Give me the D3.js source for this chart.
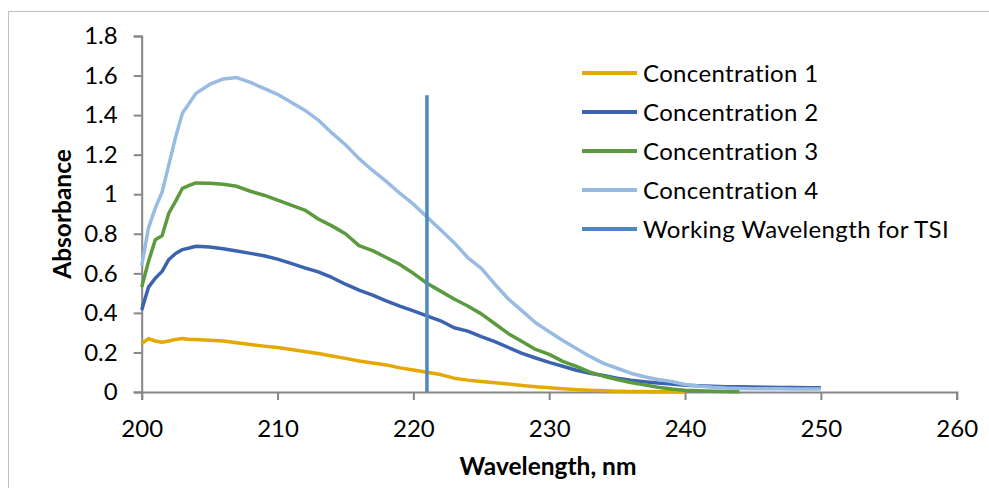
<!DOCTYPE html>
<html>
<head>
<meta charset="utf-8">
<script src="https://cdn.jsdelivr.net/npm/d3@7"></script>
<style>
  body { margin: 0; background: #fff; }
  svg { display: block; font-family: Lato, "Open Sans", sans-serif; }
</style>
</head>
<body>
<div id="chart"></div>
<script>
// wavelengths in nm (finer steps over the steep rise at the start)
const wavelengths = [200, 200.5, 201, 201.5, 202, 202.5, 203, 203.5, 204,
  205, 206, 207, 208, 209, 210, 211, 212, 213, 214, 215, 216, 217, 218, 219,
  220, 221, 222, 223, 224, 225, 226, 227, 228, 229, 230, 231, 232, 233, 234,
  235, 236, 237, 238, 239, 240, 241, 242, 243, 244, 245, 246, 247, 248, 249, 250]

const conc1 = [0.245, 0.27, 0.258, 0.252, 0.258, 0.266, 0.27, 0.266, 0.266,
  0.262, 0.258, 0.249, 0.24, 0.232, 0.225, 0.215, 0.205, 0.195, 0.182, 0.17,
  0.157, 0.147, 0.137, 0.122, 0.111, 0.1, 0.088, 0.07, 0.06, 0.053, 0.047,
  0.04, 0.033, 0.027, 0.021, 0.016, 0.012, 0.009, 0.006, 0.004, 0.003, 0.002,
  0.001, 0.001, 0, null, null, null, null, null, null, null, null, null, null]

const conc2 = [0.415, 0.53, 0.575, 0.61, 0.67, 0.7, 0.72, 0.728, 0.737,
  0.733, 0.724, 0.713, 0.701, 0.689, 0.672, 0.65, 0.628, 0.607, 0.579, 0.545,
  0.515, 0.49, 0.461, 0.434, 0.41, 0.385, 0.36, 0.325, 0.308, 0.28, 0.255,
  0.225, 0.195, 0.172, 0.15, 0.13, 0.11, 0.095, 0.083, 0.07, 0.06, 0.052,
  0.045, 0.04, 0.034, 0.031, 0.029, 0.027, 0.026, 0.025, 0.024, 0.023, 0.023,
  0.022, 0.022]

const conc3 = [0.53, 0.66, 0.77, 0.79, 0.905, 0.965, 1.03, 1.045, 1.057,
  1.055, 1.05, 1.04, 1.015, 0.995, 0.97, 0.945, 0.92, 0.875, 0.84, 0.8, 0.74,
  0.715, 0.68, 0.645, 0.6, 0.55, 0.51, 0.47, 0.435, 0.395, 0.345, 0.295,
  0.255, 0.215, 0.19, 0.155, 0.13, 0.1, 0.08, 0.063, 0.048, 0.036, 0.024,
  0.015, 0.009, 0.006, 0.004, 0.002, 0.001, null, null, null, null, null, null]

const conc4 = [0.64, 0.83, 0.93, 1.01, 1.15, 1.29, 1.41, 1.46, 1.51,
  1.555, 1.583, 1.59, 1.565, 1.535, 1.505, 1.465, 1.425, 1.375, 1.31, 1.25,
  1.18, 1.12, 1.065, 1.005, 0.95, 0.885, 0.82, 0.755, 0.68, 0.625, 0.545,
  0.47, 0.41, 0.35, 0.305, 0.26, 0.22, 0.18, 0.145, 0.12, 0.095, 0.077, 0.063,
  0.053, 0.038, 0.03, 0.024, 0.02, 0.018, 0.017, 0.016, 0.016, 0.015, 0.015, 0.015]

// working wavelength marker
const workingX = [221, 221]
const workingY = [0, 1.5]

const seriesNames = ['Concentration 1', 'Concentration 2', 'Concentration 3',
  'Concentration 4', 'Working Wavelength for TSI']
const colors = ['#E5A800', '#3C63AE', '#5B9A3D', '#98BBE2', '#4F88C0']

const xTicks = [200, 210, 220, 230, 240, 250, 260]
const yTicks = [0, 0.2, 0.4, 0.6, 0.8, 1, 1.2, 1.4, 1.6, 1.8]

const width = 989, height = 488
const plot = { left: 141.7, right: 956.7, top: 36, bottom: 392 }

const x = d3.scaleLinear().domain([200, 260]).range([plot.left, plot.right])
const y = d3.scaleLinear().domain([0, 1.8]).range([plot.bottom, plot.top])

const svg = d3.select('#chart').append('svg')
  .attr('width', width)
  .attr('height', height)

// chart area border
svg.append('rect')
  .attr('x', 8.5).attr('y', 11.5)
  .attr('width', 1000).attr('height', 500)
  .attr('fill', 'none')
  .attr('stroke', '#bfbfbf')
  .attr('stroke-width', 1)

const xAxis = d3.axisBottom(x)
  .tickValues(xTicks)
  .tickSize(8)
  .tickPadding(20)
  .tickFormat(d3.format('d'))

const yAxis = d3.axisLeft(y)
  .tickValues(yTicks)
  .tickSize(8)
  .tickPadding(16)
  .tickFormat(d => d3.format('.1f')(d).replace(/\.0$/, ''))

const xAxisG = svg.append('g')
  .attr('transform', `translate(0, ${plot.bottom})`)
  .call(xAxis)

const yAxisG = svg.append('g')
  .attr('transform', `translate(${plot.left}, 0)`)
  .call(yAxis)

for (const g of [xAxisG, yAxisG]) {
  g.select('.domain').attr('stroke', '#868686').attr('stroke-width', 2)
  g.selectAll('.tick line').attr('stroke', '#868686').attr('stroke-width', 2)
  g.selectAll('.tick text')
    .attr('fill', '#000')
    .style('font-size', '24px')
    .style('font-family', 'Lato, sans-serif')
}

svg.append('text')
  .attr('x', 548)
  .attr('y', 475)
  .attr('text-anchor', 'middle')
  .style('font-size', '24.5px')
  .style('font-weight', 'bold')
  .text('Wavelength, nm')

svg.append('text')
  .attr('transform', `translate(71, ${(plot.top + plot.bottom) / 2}) rotate(-90)`)
  .attr('text-anchor', 'middle')
  .style('font-size', '24.5px')
  .style('font-weight', 'bold')
  .text('Absorbance')

const line = d3.line()
  .defined(d => d[1] != null)
  .x(d => x(d[0]))
  .y(d => y(d[1]))

const series = [conc1, conc2, conc3, conc4]
series.forEach((vals, i) => {
  svg.append('path')
    .datum(wavelengths.map((w, j) => [w, vals[j]]))
    .attr('d', line)
    .attr('fill', 'none')
    .attr('stroke', colors[i])
    .attr('stroke-width', 3.5)
    .attr('stroke-linejoin', 'round')
})

svg.append('path')
  .datum(workingX.map((w, j) => [w, workingY[j]]))
  .attr('d', line)
  .attr('fill', 'none')
  .attr('stroke', colors[4])
  .attr('stroke-width', 3.5)

// legend
const legend = svg.append('g')
  .attr('transform', 'translate(582, 73)')

seriesNames.forEach((name, i) => {
  const row = legend.append('g')
    .attr('transform', `translate(0, ${i * 39})`)
  row.append('line')
    .attr('x1', 0).attr('x2', 55)
    .attr('stroke', colors[i])
    .attr('stroke-width', 4)
  row.append('text')
    .attr('x', 61)
    .attr('y', 9)
    .style('font-size', '24px')
    .style('letter-spacing', '0.35px')
    .text(name)
})
</script>
</body>
</html>
